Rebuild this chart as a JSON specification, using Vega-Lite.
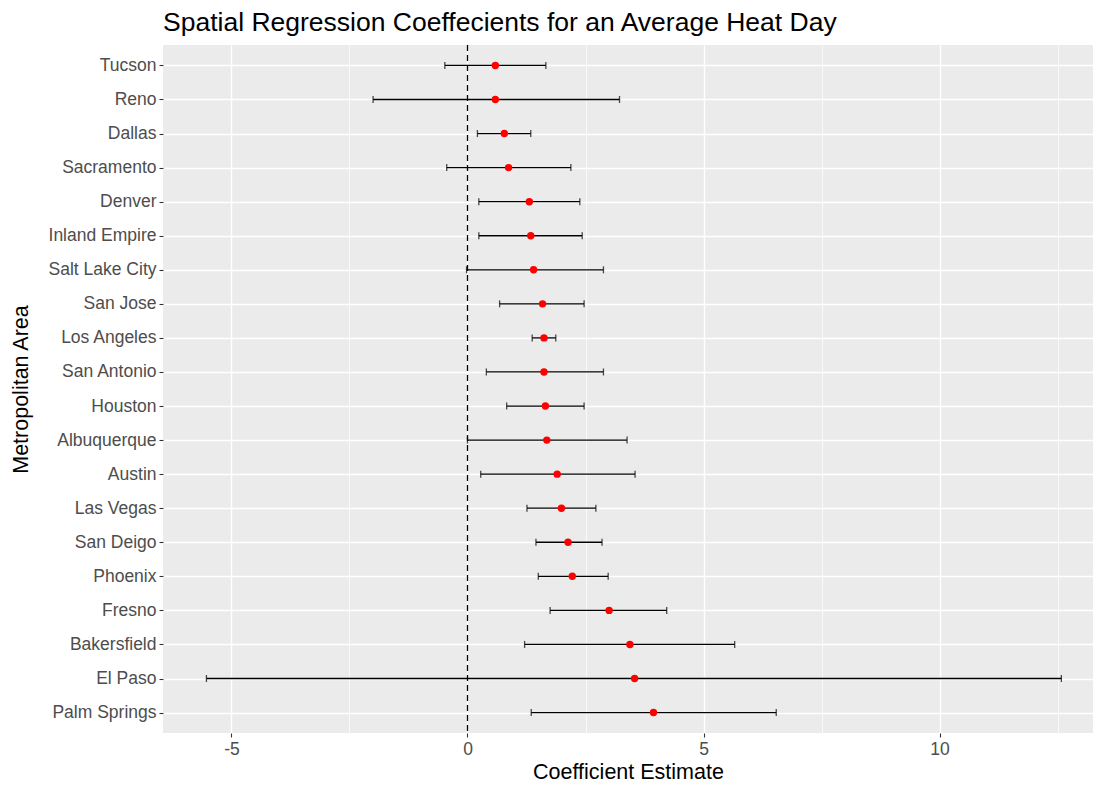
{
  "$schema": "https://vega.github.io/schema/vega-lite/v6.json",
  "width": 930,
  "height": 688,
  "autosize": {"type": "none"},
  "padding": {"left": 163, "top": 45, "right": 1, "bottom": 56},
  "background": "white",
  "view": {"fill": "#EBEBEB", "stroke": null},
  "title": {
    "text": "Spatial Regression Coeffecients for an Average Heat Day",
    "anchor": "start",
    "frame": "group",
    "font": "Liberation Sans",
    "fontSize": 26.5,
    "fontWeight": "normal",
    "color": "black",
    "offset": 8
  },
  "config": {
    "font": "Liberation Sans",
    "axis": {
      "labelFont": "Liberation Sans",
      "titleFont": "Liberation Sans",
      "labelFontSize": 17.5,
      "labelColor": "#4D4D4D",
      "titleFontSize": 21.5,
      "titleFontWeight": "normal",
      "titleColor": "black",
      "domain": false,
      "tickColor": "#333333",
      "tickSize": 4,
      "tickWidth": 1.1,
      "gridColor": "white",
      "gridOpacity": 1
    }
  },
  "data": {
    "values": [
      {"city": "Tucson", "est": 0.59, "lo": -0.48, "hi": 1.66},
      {"city": "Reno", "est": 0.59, "lo": -2.0, "hi": 3.22},
      {"city": "Dallas", "est": 0.78, "lo": 0.21, "hi": 1.34},
      {"city": "Sacramento", "est": 0.87, "lo": -0.44, "hi": 2.19},
      {"city": "Denver", "est": 1.31, "lo": 0.24, "hi": 2.38},
      {"city": "Inland Empire", "est": 1.34, "lo": 0.24, "hi": 2.43},
      {"city": "Salt Lake City", "est": 1.4, "lo": -0.02, "hi": 2.88},
      {"city": "San Jose", "est": 1.59, "lo": 0.68, "hi": 2.47},
      {"city": "Los Angeles", "est": 1.62, "lo": 1.37, "hi": 1.87},
      {"city": "San Antonio", "est": 1.62, "lo": 0.4, "hi": 2.88},
      {"city": "Houston", "est": 1.65, "lo": 0.83, "hi": 2.47},
      {"city": "Albuquerque", "est": 1.68, "lo": 0.0, "hi": 3.38},
      {"city": "Austin", "est": 1.9, "lo": 0.28, "hi": 3.55},
      {"city": "Las Vegas", "est": 1.99, "lo": 1.26, "hi": 2.72},
      {"city": "San Deigo", "est": 2.13, "lo": 1.45, "hi": 2.85},
      {"city": "Phoenix", "est": 2.22, "lo": 1.5, "hi": 2.98},
      {"city": "Fresno", "est": 3.0, "lo": 1.75, "hi": 4.22},
      {"city": "Bakersfield", "est": 3.44, "lo": 1.21, "hi": 5.66},
      {"city": "El Paso", "est": 3.54, "lo": -5.53, "hi": 12.58},
      {"city": "Palm Springs", "est": 3.94, "lo": 1.35, "hi": 6.54}
    ]
  },
  "encoding": {
    "y": {
      "field": "city",
      "type": "nominal",
      "sort": null,
      "scale": {"type": "point", "padding": 0.6},
      "axis": {
        "title": "Metropolitan Area",
        "grid": true,
        "gridWidth": 1.3,
        "labelPadding": 3,
        "titlePadding": 16
      }
    }
  },
  "layer": [
    {
      "mark": {"type": "rule", "color": "black", "strokeWidth": 1.3},
      "encoding": {
        "x": {
          "field": "lo",
          "type": "quantitative",
          "scale": {"domain": [-6.45, 13.25], "nice": false, "zero": false},
          "axis": {
            "title": "Coefficient Estimate",
            "values": [-5, -2.5, 0, 2.5, 5, 7.5, 10, 12.5],
            "labelExpr": "datum.value % 5 === 0 ? toString(datum.value) : ''",
            "grid": true,
            "gridWidth": {"condition": {"test": "datum.value % 5 === 0", "value": 1.4}, "value": 0.7},
            "tickOpacity": {"condition": {"test": "datum.value % 5 === 0", "value": 1}, "value": 0},
            "labelPadding": 3,
            "titlePadding": 4
          }
        },
        "x2": {"field": "hi"}
      }
    },
    {
      "mark": {"type": "tick", "color": "black", "size": 7, "thickness": 1.3, "orient": "vertical"},
      "encoding": {"x": {"field": "lo", "type": "quantitative"}}
    },
    {
      "mark": {"type": "tick", "color": "black", "size": 7, "thickness": 1.3, "orient": "vertical"},
      "encoding": {"x": {"field": "hi", "type": "quantitative"}}
    },
    {
      "mark": {"type": "point", "filled": true, "color": "#FF0000", "size": 55, "opacity": 1, "shape": "circle"},
      "encoding": {"x": {"field": "est", "type": "quantitative"}}
    },
    {
      "data": {"values": [{}]},
      "mark": {"type": "rule", "color": "black", "strokeWidth": 1.3, "strokeDash": [6, 4]},
      "encoding": {"x": {"datum": 0}, "y": null}
    }
  ]
}
